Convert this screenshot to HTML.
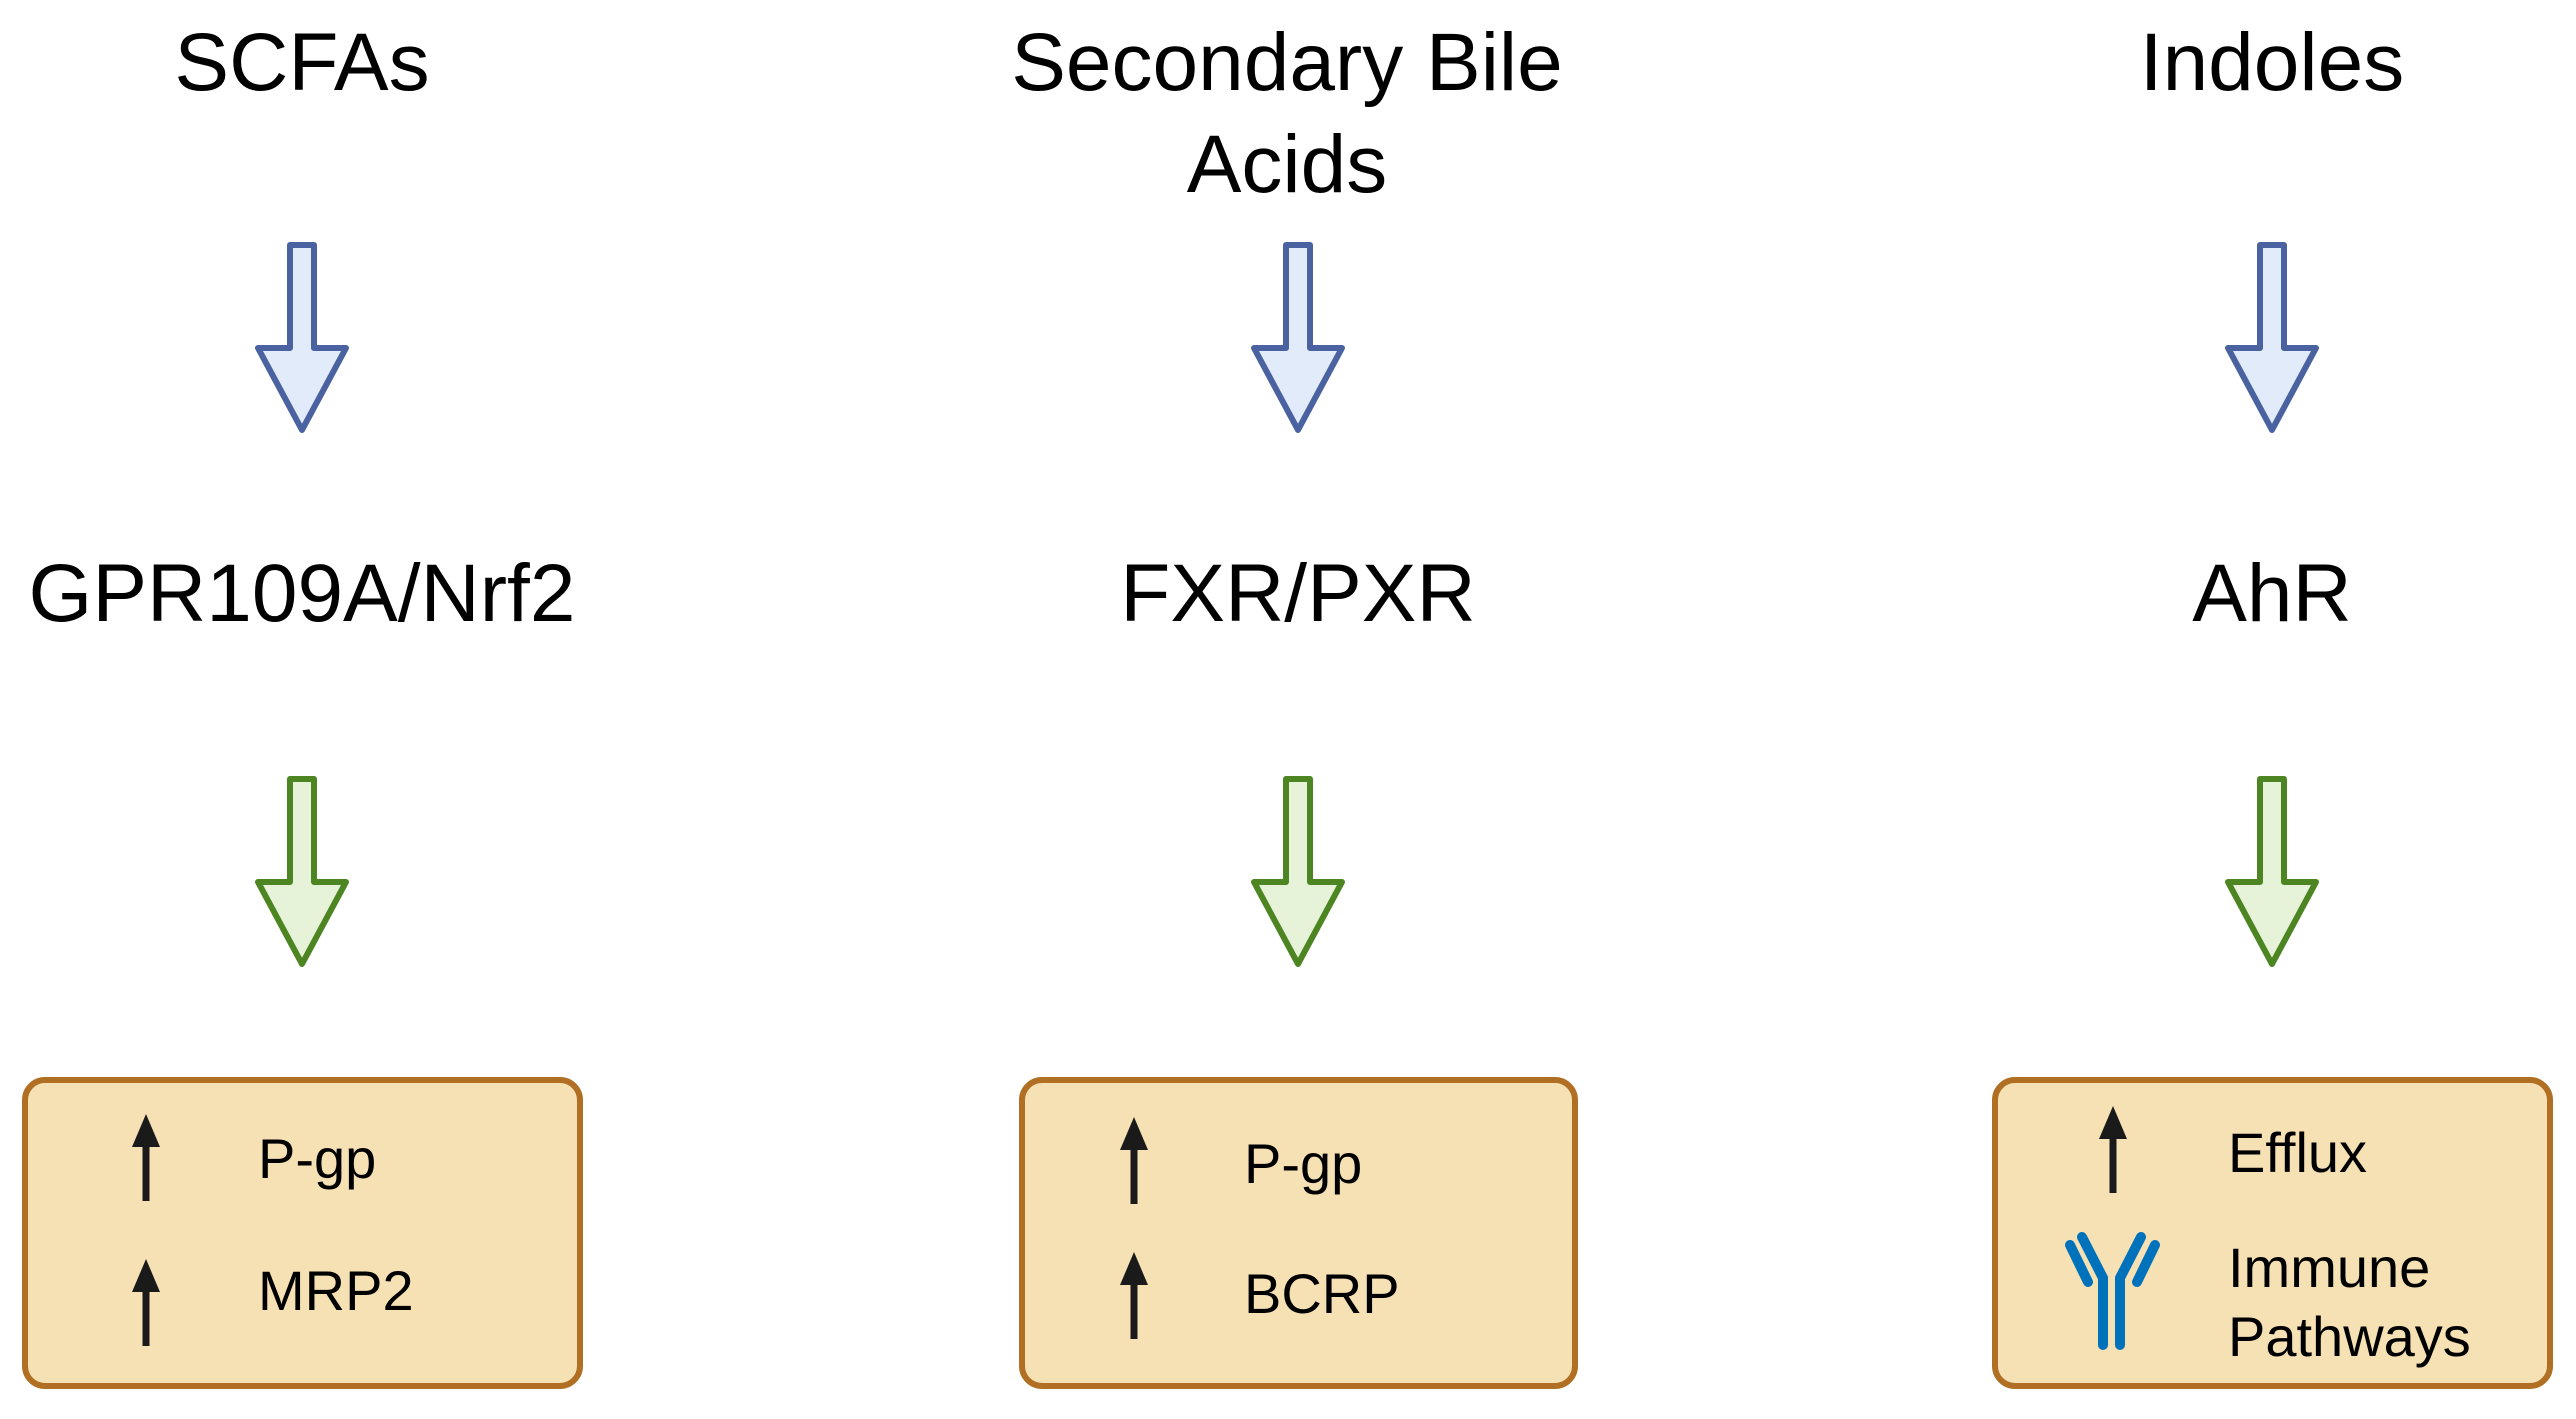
<!DOCTYPE html>
<html><head><meta charset="utf-8"><style>
html,body{margin:0;padding:0;background:#fff;}
svg{display:block;}
text{font-family:"Liberation Sans",sans-serif;fill:#000;}
</style></head><body>
<svg width="2576" height="1419" viewBox="0 0 2576 1419" xmlns="http://www.w3.org/2000/svg">
<defs>
<g id="ab"><path d="M-12,0 V-103 H12 V0 H44 L0,82 L-44,0 Z" stroke-linejoin="round" stroke-width="6"/></g>
<g id="up"><polygon points="0,0 -14,33 14,33" fill="#1a1a1a"/><rect x="-3.5" y="30" width="7" height="57" fill="#1a1a1a"/></g>
</defs>
<g font-size="82" text-anchor="middle">
<text x="302" y="90">SCFAs</text>
<text x="1287" y="90">Secondary Bile</text>
<text x="1287" y="192">Acids</text>
<text x="2272" y="90">Indoles</text>
<text x="302" y="621">GPR109A/Nrf2</text>
<text x="1298" y="621">FXR/PXR</text>
<text x="2272" y="621">AhR</text>
</g>
<g fill="#e2ebfa" stroke="#4a63a0">
<use href="#ab" x="302" y="348"/>
<use href="#ab" x="1298" y="348"/>
<use href="#ab" x="2272" y="348"/>
</g>
<g fill="#e6f3d8" stroke="#4d8522">
<use href="#ab" x="302" y="882"/>
<use href="#ab" x="1298" y="882"/>
<use href="#ab" x="2272" y="882"/>
</g>
<g fill="#f6e1b4" stroke="#b06f22" stroke-width="6">
<rect x="25" y="1080" width="555" height="306" rx="20"/>
<rect x="1022" y="1080" width="553" height="306" rx="20"/>
<rect x="1995" y="1080" width="555" height="306" rx="20"/>
</g>
<use href="#up" x="146" y="1114"/>
<use href="#up" x="146" y="1259"/>
<use href="#up" x="1134" y="1117"/>
<use href="#up" x="1134" y="1252"/>
<use href="#up" x="2113" y="1106"/>
<g font-size="56">
<text x="258" y="1178">P-gp</text>
<text x="258" y="1310">MRP2</text>
<text x="1244" y="1183">P-gp</text>
<text x="1244" y="1313">BCRP</text>
<text x="2228" y="1172">Efflux</text>
<text x="2228" y="1287">Immune</text>
<text x="2228" y="1356">Pathways</text>
</g>
<g stroke="#0071bb" stroke-width="10" stroke-linecap="round" fill="none">
<polyline points="2082,1237 2103,1278 2103,1345"/>
<polyline points="2141,1237 2120,1278 2120,1345"/>
<line x1="2070" y1="1245" x2="2088" y2="1282"/>
<line x1="2155" y1="1245" x2="2137" y2="1282"/>
</g>
</svg>
</body></html>
